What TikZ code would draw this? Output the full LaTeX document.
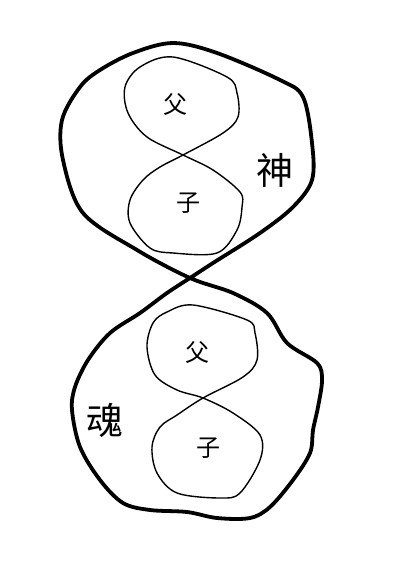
\documentclass[tikz,border=0pt]{standalone}
\usepackage{fontspec}
\newfontfamily\cjk{Noto Sans CJK SC}
\tikzset{
  outerline/.style={line width=3.8pt, line join=round, black},
  innerline/.style={line width=1.4pt, line join=round, black},
  smalllabel/.style={font=\cjk\fontsize{24}{24}\selectfont, inner sep=0pt},
  biglabel/.style={font=\cjk\fontsize{37}{37}\selectfont, inner sep=0pt},
}
\begin{document}
\begin{tikzpicture}[x=1pt,y=-1pt]
\useasboundingbox (0,0) rectangle (400,561);
% outer figure-eight
\draw[outerline] plot[smooth cycle, tension=0.55] coordinates {
 (173,43) (217,53) (280,80) (303,97) (312,143) (312,180) (293,207) (260,233) (213,263)
 (190,278)
 (167,293) (140,313) (110,333) (88,360) (75,387) (72,410) (80,447) (100,480) (123,503)
 (150,510) (187,512) (217,518) (250,518) (270,507) (293,480) (310,453) (313,430)
 (318,407) (322,380) (317,363) (287,343) (267,313) (233,293)
 (190,278)
 (137,250) (83,213) (63,160) (62,120) (80,87) (100,70) (133,53)};
% upper inner figure-eight
\draw[innerline] plot[smooth cycle, tension=0.55] coordinates {
 (173,57) (227,77) (237,93) (238,117) (223,133)
 (183,155)
 (160,167) (143,180) (130,200) (130,223) (150,248) (173,253) (217,253) (237,230) (242,207) (240,192) (213,170)
 (183,155)
 (147,137) (128,113) (125,87) (140,67)};
% lower inner figure-eight
\draw[innerline] plot[smooth cycle, tension=0.55] coordinates {
 (193,305) (247,320) (255,333) (257,360) (243,377)
 (203,398)
 (177,415) (160,427) (152,447) (157,473) (177,493) (220,498) (240,493) (260,460) (260,435) (233,413)
 (203,398)
 (177,390) (155,375) (147,347) (153,323) (167,312)};
% labels
\node[smalllabel] (f1) at (175,105) {父};
\node[smalllabel] (z1) at (188,203) {子};
\node[biglabel] (shen) at (275,170) {神};
\node[smalllabel] (f2) at (197,352) {父};
\node[smalllabel] (z2) at (208,448) {子};
\node[biglabel] (hun) at (105,420) {魂};
\end{tikzpicture}
\end{document}
